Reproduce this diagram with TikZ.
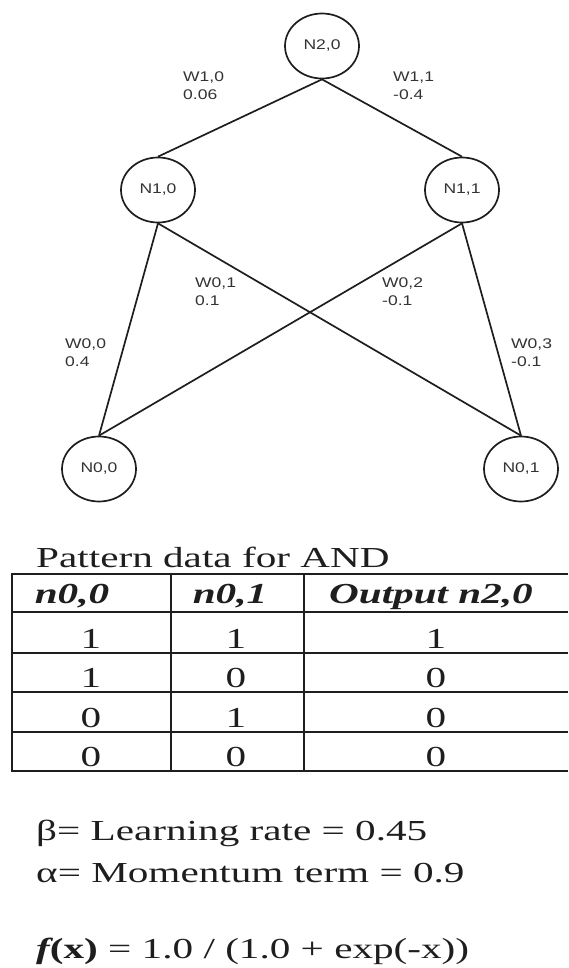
\documentclass[tikz,border=0pt]{standalone}
\usepackage{fontspec}
\setmainfont{Liberation Serif}
\newfontfamily\tnr[FakeStretch=1.42]{Liberation Serif}
\newfontfamily\lbl[FakeStretch=1.25]{Liberation Sans}
\usetikzlibrary{shapes.geometric}
\definecolor{ink}{HTML}{1E1E1E}
\definecolor{lblink}{HTML}{333333}
\tikzset{
  neuron/.style={ellipse, draw=ink, line width=1.7pt, minimum width=74pt, minimum height=65pt, inner sep=0pt,
    font=\lbl\fontsize{14}{17}\selectfont, text=lblink},
  wire/.style={draw=ink, line width=1.7pt},
  wlabel/.style={anchor=west, align=left, inner sep=0pt, font=\lbl\fontsize{14}{18}\selectfont, text=lblink},
  tline/.style={draw=ink, line width=2.3pt},
  ttext/.style={anchor=base, inner sep=0pt, font=\tnr\fontsize{29}{34}\selectfont, text=ink},
  thead/.style={anchor=base, inner sep=0pt, font=\tnr\fontsize{29}{34}\selectfont\bfseries\itshape, text=ink},
  para/.style={anchor=base west, inner sep=0pt, font=\tnr\fontsize{29}{34}\selectfont, text=ink}
}
\begin{document}
\begin{tikzpicture}[x=1pt,y=-1pt]
\useasboundingbox (0,0) rectangle (568,968);
% neurons
\node[neuron] (n20) at (322,46) {N2,0};
\node[neuron] (n10) at (158,190) {N1,0};
\node[neuron] (n11) at (462,190) {N1,1};
\node[neuron] (n00) at (99,469) {N0,0};
\node[neuron] (n01) at (521,469) {N0,1};
% connections
\draw[wire] (n20.south) -- (n10.north);
\draw[wire] (n20.south) -- (n11.north);
\draw[wire] (n10.south) -- (n00.north);
\draw[wire] (n10.south) -- (n01.north);
\draw[wire] (n11.south) -- (n00.north);
\draw[wire] (n11.south) -- (n01.north);
% weights
\node[wlabel] (w10) at (183,86) {W1,0\\0.06};
\node[wlabel] (w11) at (393,86) {W1,1\\-0.4};
\node[wlabel] (w01) at (195,292) {W0,1\\0.1};
\node[wlabel] (w02) at (382,292) {W0,2\\-0.1};
\node[wlabel] (w00) at (65,353) {W0,0\\0.4};
\node[wlabel] (w03) at (511,353) {W0,3\\-0.1};
% table
\node[para] (title) at (36,567) {Pattern data for AND};
\foreach \yy in {574,612,653,692,732,771}{\draw[tline] (11,\yy) -- (568,\yy);}
\foreach \xx in {12,171,304}{\draw[tline] (\xx,574) -- (\xx,771);}
\node[thead] (h1) at (72,603) {n0,0};
\node[thead] (h2) at (230,603) {n0,1};
\node[thead] (h3) at (431,603) {Output n2,0};
\node[ttext] (a1) at (91,648) {1}; \node[ttext] (b1) at (236,648) {1}; \node[ttext] (c1) at (436,648) {1};
\node[ttext] (a2) at (91,687) {1}; \node[ttext] (b2) at (236,687) {0}; \node[ttext] (c2) at (436,687) {0};
\node[ttext] (a3) at (91,727) {0}; \node[ttext] (b3) at (236,727) {1}; \node[ttext] (c3) at (436,727) {0};
\node[ttext] (a4) at (91,766) {0}; \node[ttext] (b4) at (236,766) {0}; \node[ttext] (c4) at (436,766) {0};
% parameters
\node[para] (beta) at (36,840) {β= Learning rate = 0.45};
\node[para] (alpha) at (36,882) {α= Momentum term = 0.9};
\node[para] (fx) at (36,958) {{\bfseries\itshape f}{\bfseries (x)} = 1.0 / (1.0 + exp(-x))};
\end{tikzpicture}
\end{document}
